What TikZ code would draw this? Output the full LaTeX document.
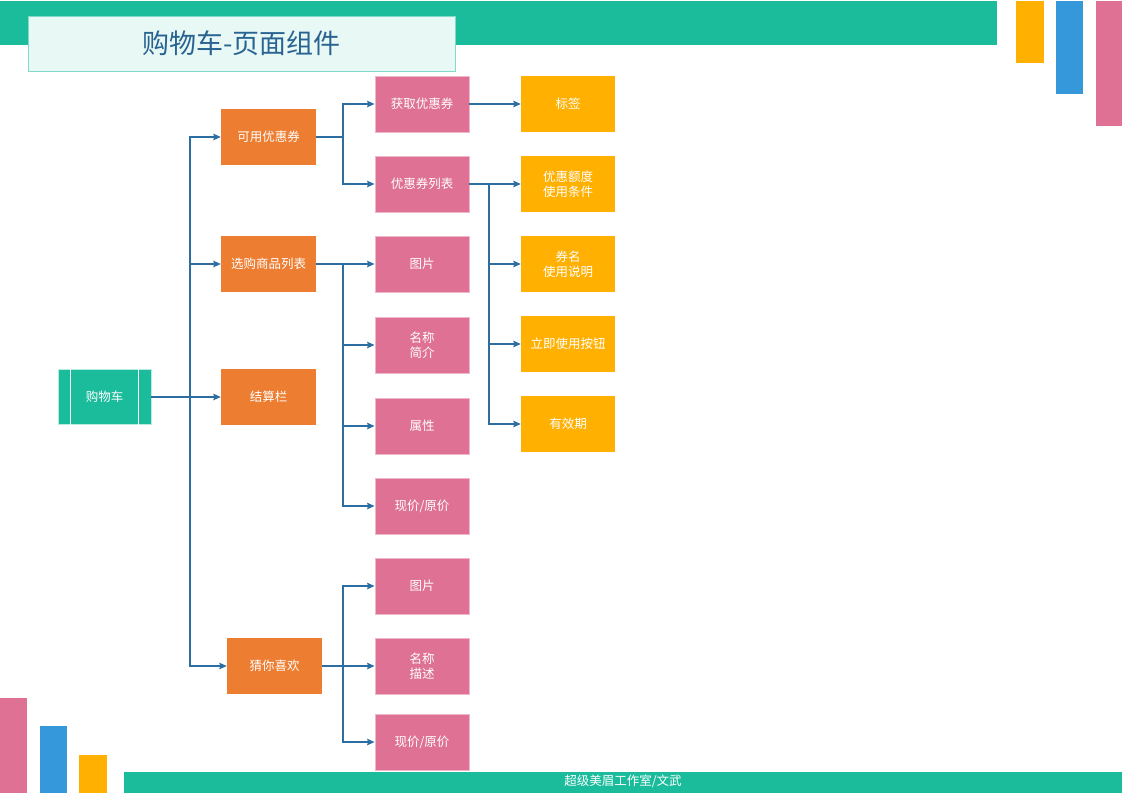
\documentclass[tikz,border=0pt]{standalone}
\usepackage{fontspec}
\setmainfont{Noto Sans CJK SC}
\usetikzlibrary{arrows.meta}
\definecolor{teal}{HTML}{1ABC9C}
\definecolor{pinkc}{HTML}{DE7194}
\definecolor{amber}{HTML}{FFB000}
\definecolor{orangec}{HTML}{ED7D31}
\definecolor{bluec}{HTML}{3498DB}
\definecolor{linkc}{HTML}{2C6EA2}
\begin{document}
\begin{tikzpicture}[x=1pt,y=-1pt,font=\fontsize{12.5}{15}\selectfont,
    every node/.style={text=white,align=center,inner sep=0pt},
    main/.style={fill=orangec,minimum width=95pt,minimum height=56pt},
    part/.style={fill=pinkc,draw=pinkc!50!white,line width=0.8pt,minimum width=94pt,minimum height=56pt},
    leaf/.style={fill=amber,minimum width=94pt,minimum height=56pt},
    flow/.style={draw=linkc,line width=1.1pt,-{Stealth[length=7.5pt,width=6.5pt,inset=1pt]}},
    link/.style={draw=linkc,line width=1.1pt}]
    \useasboundingbox (0,0) rectangle (1122,793);
    % frame bars
    \fill[teal] (0,1) rectangle (997,45);
    \fill[amber] (1016,1) rectangle (1044,63);
    \fill[bluec] (1056,1) rectangle (1083,94);
    \fill[pinkc] (1096,1) rectangle (1122,126);
    \fill[pinkc] (0,698) rectangle (27,793);
    \fill[bluec] (40,726) rectangle (67,793);
    \fill[amber] (79,755) rectangle (107,793);
    \fill[teal] (124,772) rectangle (1122,793);
    \node (footer) at (623,781) {超级美眉工作室/文武};
    % title
    \node[fill=teal!10!white,draw=teal!55!white,line width=0.8pt,minimum width=427pt,minimum height=55pt,
      text=linkc!90!black,font=\fontsize{27}{32}\selectfont] (title) at (241.5,43.5) {购物车-页面组件};
    % root
    \node[fill=teal,draw=teal!30!white,line width=0.8pt,minimum width=93pt,minimum height=55pt] (cart) at (104.5,397) {购物车};
    \draw[white,line width=0.8pt] ([xshift=13pt]cart.north west) -- ([xshift=13pt]cart.south west);
    \draw[white,line width=0.8pt] ([xshift=-13pt]cart.north east) -- ([xshift=-13pt]cart.south east);
    % first level
    \node[main] (coupon) at (268.5,137) {可用优惠券};
    \node[main] (goods) at (268.5,264) {选购商品列表};
    \node[main] (settle) at (268.5,397) {结算栏};
    \node[main] (guess) at (274.5,666) {猜你喜欢};
    % second level
    \node[part] (getc) at (422,104) {获取优惠券};
    \node[part] (clist) at (422,184) {优惠券列表};
    \node[part] (gpic) at (422,264) {图片};
    \node[part] (gname) at (422,345) {名称\\简介};
    \node[part] (gattr) at (422,426) {属性};
    \node[part] (gprice) at (422,506) {现价/原价};
    \node[part] (lpic) at (422,586) {图片};
    \node[part] (lname) at (422,666) {名称\\描述};
    \node[part] (lprice) at (422,742) {现价/原价};
    % third level
    \node[leaf] (tag) at (568,104) {标签};
    \node[leaf] (amount) at (568,184) {优惠额度\\使用条件};
    \node[leaf] (cname) at (568,264) {券名\\使用说明};
    \node[leaf] (usebtn) at (568,344) {立即使用按钮};
    \node[leaf] (valid) at (568,424) {有效期};
    % connectors
    \coordinate (t0) at (190,397);
    \coordinate (t1) at (343,137);
    \coordinate (t2) at (343,264);
    \coordinate (t3) at (343,666);
    \coordinate (t4) at (489,184);
    \draw[flow] (cart.east) -- (settle.west);
    \draw[flow] (t0) |- (coupon.west);
    \draw[flow] (t0) |- (goods.west);
    \draw[flow] (t0) |- (guess.west);
    \draw[link] (coupon.east) -- (t1);
    \draw[flow] (t1) |- (getc.west);
    \draw[flow] (t1) |- (clist.west);
    \draw[flow] (goods.east) -- (gpic.west);
    \draw[flow] (t2) |- (gname.west);
    \draw[flow] (t2) |- (gattr.west);
    \draw[flow] (t2) |- (gprice.west);
    \draw[link] (guess.east) -- (t3);
    \draw[flow] (t3) |- (lpic.west);
    \draw[flow] (t3) -- (lname.west);
    \draw[flow] (t3) |- (lprice.west);
    \draw[flow] (getc.east) -- (tag.west);
    \draw[flow] (clist.east) -- (amount.west);
    \draw[flow] (t4) |- (cname.west);
    \draw[flow] (t4) |- (usebtn.west);
    \draw[flow] (t4) |- (valid.west);
\end{tikzpicture}
\end{document}
